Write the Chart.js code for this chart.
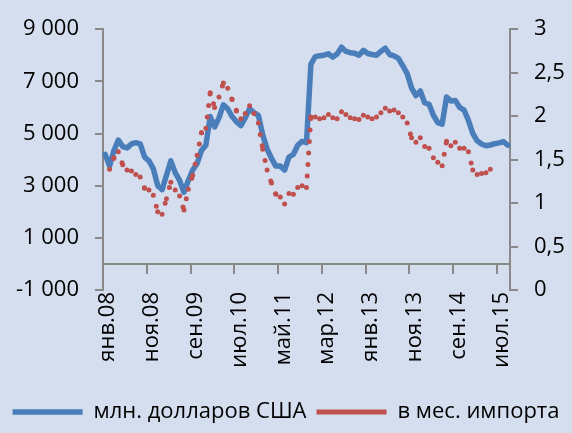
<!DOCTYPE html>
<html>
<head>
<meta charset="utf-8">
<script src="https://cdn.jsdelivr.net/npm/chart.js@4.4.1/dist/chart.umd.min.js"></script>
<style>
  html, body { margin: 0; padding: 0; background: #d4deee; }
  #wrap { width: 572px; height: 433px; }
</style>
</head>
<body>
<div id="wrap"><canvas id="reserves"></canvas></div>
<script>
"use strict";

// подписи месяцев: янв.08 ... сен.15
const monthNames = ["янв", "фев", "мар", "апр", "май", "июн", "июл", "авг", "сен", "окт", "ноя", "дек"];
const years = ["08", "09", "10", "11", "12", "13", "14", "15"];

// резервы, млн. долларов США (левая ось)
const usdMln = [
  4200, 3750, 4350, 4750, 4500, 4450, 4600, 4650, 4600, 4100,
  3950, 3650, 3000, 2850, 3400, 3950, 3500, 3200, 2750, 3200,
  3600, 3850, 4350, 4550, 5650, 5250, 5600, 6100, 5950, 5650,
  5450, 5300, 5600, 5950, 5800, 5700, 4950, 4400, 4050, 3750,
  3750, 3600, 4100, 4200, 4550, 4700, 4650, 7650, 7950, 7980,
  8000, 8060, 7930, 8050, 8310, 8150, 8100, 8080, 8000, 8190,
  8070, 8030, 8000, 8150, 8270, 8030, 7980, 7880, 7600, 7300,
  6750, 6450, 6630, 6180, 6120, 5700, 5420, 5360, 6400, 6250,
  6270, 6000, 5900, 5500, 5000, 4720, 4600, 4530, 4560, 4610,
  4640, 4690, 4550
];

// в месяцах импорта (правая ось)
const importMonths = [
  null, 1.39, 1.52, 1.59, 1.44, 1.38, 1.37, 1.33, 1.30, 1.17,
  1.15, 1.09, 0.90, 0.87, 1.05, 1.24, 1.15, 1.08, 0.92, 1.16,
  1.32, 1.55, 1.81, 1.86, 2.27, 2.10, 2.22, 2.38, 2.32, 2.19,
  2.06, 1.97, 2.03, 2.12, 2.03, 1.92, 1.62, 1.38, 1.23, 1.10,
  1.07, 0.99, 1.11, 1.10, 1.18, 1.20, 1.18, 1.99, 1.99, 1.97,
  1.98, 2.02, 1.98, 1.97, 2.05, 2.02, 1.98, 1.97, 1.96, 2.01,
  1.99, 1.97, 1.99, 2.04, 2.09, 2.06, 2.07, 2.04, 1.99, 1.92,
  1.75, 1.70, 1.75, 1.65, 1.63, 1.52, 1.47, 1.43, 1.71, 1.66,
  1.70, 1.63, 1.63, 1.59, 1.38, 1.33, 1.34, 1.35, 1.39, 1.44,
  null, null, null
];

const seriesNames = ["млн. долларов США", "в мес. импорта"];

let labels = [];
years.forEach(function (y) {
  monthNames.forEach(function (m) {
    labels.push(m + "." + y);
  });
});
labels = labels.slice(0, usdMln.length);

const AXIS_GREY = "#898989";
const FONT = { family: "'Open Sans', sans-serif", size: 22 };

function spaced(v) {
  return v.toString().replace(/\B(?=(\d{3})+(?!\d))/g, " ");
}

new Chart(document.getElementById("reserves"), {
  type: "line",
  data: {
    labels: labels,
    datasets: [
      {
        label: seriesNames[0],
        data: usdMln,
        yAxisID: "y",
        borderColor: "#4a7ebb",
        backgroundColor: "#4a7ebb",
        borderWidth: 5.5,
        borderCapStyle: "round",
        borderJoinStyle: "round",
        pointRadius: 0,
        order: 1,
      },
      {
        label: seriesNames[1],
        data: importMonths,
        yAxisID: "y1",
        borderColor: "#c0504d",
        backgroundColor: "#c0504d",
        borderWidth: 5,
        borderDash: [0, 11.5],
        borderCapStyle: "round",
        borderJoinStyle: "round",
        pointRadius: 0,
        order: 0,
        // как в Excel: пунктир начинается заново в каждой точке
        segment: {
          borderDash: function (ctx) {
            return [0, 11.5 + (ctx.p0DataIndex % 2) * 0.001];
          },
        },
      },
    ],
  },
  options: {
    responsive: true,
    maintainAspectRatio: false,
    animation: false,
    layout: {
      padding: { top: 28, left: 0, right: 0, bottom: 0 },
    },
    plugins: {
      tooltip: { enabled: false },
      legend: {
        position: "bottom",
        labels: {
          font: FONT,
          color: "#000",
          usePointStyle: true,
          pointStyle: "line",
          pointStyleWidth: 70,
          padding: 10,
          sort: function (a, b) {
            return a.datasetIndex - b.datasetIndex;
          },
        },
      },
    },
    scales: {
      x: {
        type: "category",
        offset: true,
        grid: { display: false, drawTicks: false },
        border: { display: false },
        ticks: {
          autoSkip: false,
          minRotation: 90,
          maxRotation: 90,
          padding: 2,
          labelOffset: 3,
          color: "#000",
          font: FONT,
          callback: function (value, index) {
            return index % 10 === 0 ? this.getLabelForValue(value) : "";
          },
        },
        afterFit: function (scale) {
          scale.height = 101;
        },
      },
      // ось категорий на уровне нуля левой шкалы: линия и засечки
      x2: {
        type: "category",
        axis: "x",
        position: { y: 0 },
        offset: true,
        ticks: { display: false },
        border: { display: true, color: AXIS_GREY, width: 2 },
        grid: {
          offset: true,
          drawOnChartArea: false,
          tickLength: 9,
          lineWidth: 2,
          color: function (ctx) {
            return ctx.index % 10 === 0 ? AXIS_GREY : "rgba(0,0,0,0)";
          },
        },
      },
      y: {
        position: "left",
        min: -1000,
        max: 9000,
        border: { display: true, color: AXIS_GREY, width: 2 },
        grid: { drawOnChartArea: false, tickLength: 8, color: AXIS_GREY, lineWidth: 2 },
        ticks: {
          stepSize: 2000,
          padding: 16,
          color: "#000",
          font: FONT,
          callback: function (value) {
            return spaced(value);
          },
        },
        afterFit: function (scale) {
          scale.width = 103;
        },
      },
      y1: {
        position: "right",
        min: 0,
        max: 3,
        border: { display: true, color: AXIS_GREY, width: 2 },
        grid: { drawOnChartArea: false, tickLength: 8, color: AXIS_GREY, lineWidth: 2 },
        ticks: {
          stepSize: 0.5,
          padding: 16,
          color: "#000",
          font: FONT,
          callback: function (value) {
            return value.toString().replace(".", ",");
          },
        },
        afterFit: function (scale) {
          scale.width = 62;
        },
      },
    },
  },
});
</script>
</body>
</html>
